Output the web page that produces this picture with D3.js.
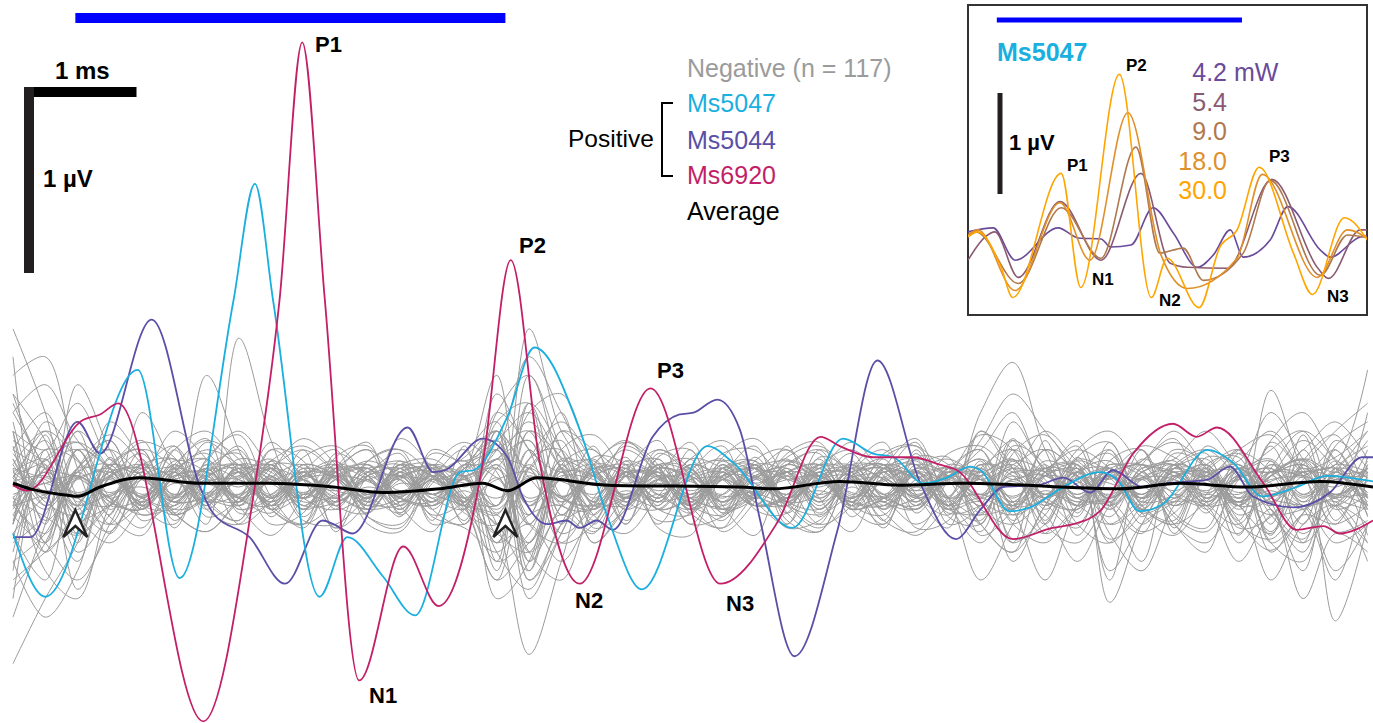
<!DOCTYPE html>
<html>
<head>
<meta charset="utf-8">
<script src="https://cdn.jsdelivr.net/npm/d3@7"></script>
<style>
  body { margin: 0; background: #fff; }
  svg { display: block; font-family: "Liberation Sans", Arial, sans-serif; }
</style>
</head>
<body>
<div class="chart"></div>
<script>
// ABR-like traces: negatives in grey, three positives, grand average, power-series inset

// stimulus window (ms)
var stim = [0.58, 4.58];
var insetStim = [0.47, 4.47];

// sample times for the negative traces (ms)
var negTimes = [0, 0.3, 0.6, 0.9, 1.2, 1.5, 1.8, 2.1, 2.4, 2.7, 3, 3.3, 3.6, 3.9, 4.2, 4.5, 4.8, 5.1, 5.4, 5.7, 6, 6.3,
  6.6, 6.9, 7.2, 7.5, 7.8, 8.1, 8.4, 8.7, 9, 9.3, 9.6, 9.9, 10.2, 10.5, 10.8, 11.1, 11.4, 11.7, 12, 12.3, 12.6];

// negative traces, values in 0.01 µV (estimated)
var negTraces = [
  [85, 40, -20, 10, 25, -5, 10, -10, 5, 12, -8, 6, 10, -4, 8, 20, -10, 5, 15, -6, 4, 10, -12, 0, 8, 12, -5, 3, 9, -10, 6, 14, -4, 2, 10, -8, 5, 12, -6, 3, 8, -10, 4],
  [-95, -60, -30, 15, -10, 8, -12, 5, 10, -6, 12, -4, 6, -10, 5, -30, 20, -8, 6, 10, -12, 4, 8, -6, 10, -8, 3, 12, -5, 6, -14, 8, 2, -10, 6, -4, 12, -8, 5, 10, -6, 8, -3],
  [60, 70, 10, -25, 5, 15, -10, 8, -6, 10, 4, -10, 12, 6, -8, 40, 60, 10, -15, 8, 5, -12, 10, 6, -4, 15, -10, 8, 4, -12, 10, 20, -6, 8, -10, 4, 12, -8, 6, 2, -12, 10, 5],
  [-40, -70, -45, 10, 20, -15, 5, 12, -10, 8, -6, 4, -12, 10, 6, -60, -40, 15, 8, -10, 12, -6, 4, 10, -14, 6, 8, -4, -12, 10, 5, -8, 12, -20, -30, 5, 8, -12, 6, 14, -8, 4, -10],
  [30, -20, 55, 20, -10, 5, 15, -8, 6, -12, 10, 8, -5, 12, -10, 25, -15, 30, 10, -8, 15, -10, 6, 12, -6, 8, -12, 10, 15, -5, 40, 67, 20, -10, 5, 12, -6, 10, -8, 6, 15, -5, 10],
  [-60, 20, -55, -20, 5, -10, 8, 12, -6, 4, -10, 6, 10, -8, 4, -20, -90, -40, 10, 8, -6, 12, -10, 5, 8, -12, 6, 10, -5, -15, 8, -6, 10, 12, -62, -20, 5, 8, -10, 6, 12, -4, 8],
  [45, 10, -10, 35, 15, -5, 60, 20, -10, 8, 5, -6, 12, -4, 10, 30, 10, 40, -10, 6, 8, -12, 4, 10, -6, 12, 5, -8, 10, 6, -4, 15, -12, 8, 10, -6, 4, 12, -10, 52, 10, -5, 20],
  [-20, 35, 15, -15, 40, 10, -20, 80, 25, -10, 6, 12, -8, 5, 14, -10, 85, 30, 8, -6, 12, 10, -8, 4, 15, -6, 8, 12, -10, 5, 8, -12, 6, 10, -5, 8, 14, -6, 10, -4, 8, 12, 63],
  [10, -45, -60, -10, 12, -8, 6, 10, -12, 5, 8, -6, 10, 12, -10, -50, 10, -30, -20, 8, 6, -10, 12, -4, 6, 10, -8, 5, 12, -6, -50, -20, 10, 6, -8, -40, 12, 5, -10, 8, 6, -72, -20],
  [70, -30, 20, 10, -12, 6, 8, -5, 12, 10, -8, 4, 6, -10, 8, 60, -40, 12, 20, -6, 10, 5, -12, 8, 6, -8, 12, 10, -6, 4, 15, -10, 8, 6, -12, 10, 8, -4, 12, -8, 6, 10, -5],
  [15, -10, 8, 12, -6, 10, -4, 8, -12, 6, 10, -8, 4, 12, -6, 15, -10, 8, 6, -12, 10, 4, -8, 12, -6, 8, 10, -4, 6, -10, 12, 8, -6, 4, 10, -12, 6, 8, -10, 12, -4, 6, 8],
  [-12, 8, -6, -10, 12, 4, -8, 10, 6, -12, 4, 10, -6, -8, 12, -14, 10, -6, -10, 8, -4, -12, 6, 10, -8, -4, 12, -6, -10, 8, 4, -12, 10, -6, -8, 12, -4, -10, 6, -8, 10, -6, -12],
  [25, 12, -15, 5, 18, -8, -4, 15, 10, -6, -12, 8, 14, 5, -10, 35, 45, -5, -12, 10, 15, -6, -10, 12, 8, -14, 6, 15, -8, 10, 20, -10, -6, 14, 5, -12, 10, 15, -6, 22, -10, 8, 30],
  [-30, -15, 20, -8, -12, 10, 15, -6, -10, 12, 5, -14, 8, 10, -6, -40, -25, 10, 14, -8, -12, 6, 15, -10, -6, 12, 8, -12, 4, 10, -20, -35, 8, 12, -10, -25, 6, -14, 10, -30, -40, 8, -15],
  [5, 25, -8, 12, 6, -14, 10, 4, -8, 12, 6, -10, 8, -4, 12, 20, 30, -15, 6, 10, -8, 12, 5, -10, 14, 6, -8, 10, 12, -6, 8, 25, 10, -6, 12, 8, -10, 6, 14, 30, 8, -10, 12],
  [-8, -25, 10, 6, -12, 8, -10, 12, 4, -6, 10, -12, 6, 8, -10, -25, -35, 12, -8, 6, 10, -10, 8, -6, 12, 4, -10, 8, 6, -12, -15, -10, 6, 12, -30, -10, 8, -6, 10, -12, -35, 6, -10],
  [40, 55, 25, 10, -5, 20, 30, 10, -8, 6, 12, -5, 10, 6, -10, 50, 20, 8, 12, -6, 10, 15, -8, 6, 10, -12, 5, 8, 14, -6, 30, 10, 8, -10, 12, 6, -8, 10, 20, -5, 12, 30, 45],
  [-50, -35, -20, -10, 8, -12, -6, 10, 4, -10, -8, 12, -6, -10, 6, -35, -55, -20, -8, 10, -12, -6, 8, -10, -4, 12, -8, -10, 6, -12, -8, -30, -15, 10, -45, -20, -8, 6, -30, -12, -60, -25, -35],
  [12, -6, 30, 10, -8, 14, 8, -10, 12, -4, 6, 10, -8, 12, 5, -10, 45, 20, -6, 14, 6, -8, 10, 12, -6, 4, 10, -8, 12, 6, -10, 14, 8, -6, 10, -4, 12, 6, -10, 8, 14, -6, 10],
  [-20, 12, -35, -15, 6, -8, 10, -12, -6, 8, -10, 4, -12, 6, -8, 12, -60, -25, 8, -10, 6, -12, -4, 10, -8, 6, -12, -6, 8, -10, 4, -15, -8, -20, 6, -10, 8, -12, -25, 6, -10, -8, -30],
  [8, 15, -10, 6, 12, -4, 8, 20, -6, 10, 5, -8, 12, 4, 10, 25, -10, 14, 6, -4, 12, 8, -6, 10, 14, 6, -8, 12, 5, 10, -6, 35, 8, -4, 10, 12, -6, 8, 10, 15, -4, 12, 8],
  [-15, 5, -12, 8, -6, -10, 12, -8, 6, -12, -4, 10, -10, 8, -6, -15, 20, -10, -12, 8, -6, 10, -12, -4, 8, -10, 6, -8, -12, 4, -10, 8, -6, -12, 10, -8, -4, 12, -10, -6, 8, -12, -4],
  [50, 0, -40, 5, 10, -6, 12, 8, -10, 6, 14, -4, 8, 10, -12, 30, -50, -20, 10, 6, -8, 12, 4, -10, 8, 12, -6, 10, 4, -8, 12, 6, -10, 8, 14, -6, 10, 4, -8, 12, 6, 20, -10],
  [-70, -20, 30, -12, 6, 10, -8, 4, 12, -10, 6, -6, 10, -12, 4, -45, 30, 10, -12, 8, 4, -10, 12, -6, 8, -8, 10, 4, -12, 6, 10, -8, -25, 12, -50, 8, -10, 6, 12, -8, -45, 10, -6],
  [20, 40, -5, -20, 10, 5, -10, 12, 8, -6, 10, 4, -12, 8, 6, -10, 40, 50, 12, -8, 10, 6, -4, 12, -10, 8, 6, -12, 10, 4, 25, 50, 30, 10, -6, 8, 12, -10, 6, 40, 15, -6, 40],
  [-35, 10, -15, 6, -10, 12, -4, -8, 10, -6, 12, 6, -10, 4, -8, -20, -45, 8, -30, -10, 6, -8, 12, -4, -10, 8, -6, 10, 4, -12, 6, -40, -10, 8, -12, 4, -20, -35, 10, -6, -12, -50, 8],
  [5, -12, 8, 20, 6, -8, 14, 30, 10, -6, 8, 12, -4, 10, 6, 15, 10, -8, 12, 25, 6, -10, 8, 14, -6, 12, 20, 6, -8, 10, 4, 12, 20, -6, 8, 14, 30, 10, -8, 6, 12, -4, 8],
  [-10, -30, -50, -25, -8, -15, -6, 10, -12, -4, 8, -10, -6, 6, -12, -30, -20, -40, -15, -6, -10, 8, -14, -6, -10, 4, -12, -8, -20, -6, 8, -12, -50, -10, 6, -14, -8, -10, -40, -15, -10, -45, -20],
  [30, 20, 45, 15, 8, 30, 15, -6, 10, 20, 8, -4, 12, 15, 6, 20, 70, 40, 10, 20, 8, -6, 14, 10, 20, 6, 12, -4, 15, 8, 20, 40, 10, 25, -8, 10, 15, 30, 12, 8, 20, 35, 15],
  [-25, -50, 5, -6, -15, -10, 6, -20, -8, 8, -12, -6, -14, 4, -10, -50, -30, -15, -25, 6, -12, -8, -18, 4, -10, -15, -6, -20, 8, -10, -30, -8, -15, -40, -10, 6, -20, -30, -10, -50, -20, -10, -40],
  [6, -4, 8, -6, 4, 8, -5, 6, -8, 4, 6, -6, 8, -4, 5, 10, -8, 6, 4, -6, 8, -4, 6, 5, -8, 4, 6, -6, 8, 3, -5, 6, -4, 8, -6, 5, 4, -8, 6, -4, 8, 5, -6],
  [-6, 8, -4, 5, -8, 4, 6, -6, 3, 8, -5, 6, -4, 8, -6, -10, 12, -6, 8, -5, 4, 6, -8, 5, -4, 8, -6, 4, -5, 8, -6, 4, 6, -8, 5, -6, 8, 4, -6, 8, -5, 4, 6],
  [10, 4, -6, 8, 10, -4, 6, 12, 2, -6, 8, 10, -2, 6, 4, 15, 25, -5, 8, 12, -4, 6, 10, 2, 8, -6, 10, 12, -2, 6, 15, 4, 10, -4, 8, 12, 6, -2, 10, 8, 15, 4, 10],
  [-10, -4, 6, -8, -12, 2, -6, -10, 4, -8, -6, -12, 2, -4, -10, -15, -30, 4, -8, -10, 2, -6, -12, -4, -8, 6, -10, -6, -12, 2, -8, -15, -4, -10, -20, -6, 4, -10, -8, -15, -12, -4, -10],
  [15, -8, -15, 12, 4, -6, 10, -8, 14, 4, -6, 10, 8, -8, 12, 25, -20, 10, -8, 12, 6, -6, 10, -10, 8, 4, -8, 12, 6, -10, 10, -8, 14, 6, -10, 8, 12, -6, 4, 10, -8, 14, -6],
  [-18, 10, 20, -10, -6, 12, -8, -4, 10, -12, 6, -8, -10, 12, -4, -25, 15, 20, -10, -6, 12, -8, 4, -10, -6, 10, -12, 4, 8, -10, -6, -12, 8, 20, 10, -12, -6, 8, -10, -25, 4, 10, -12],
  [35, -10, 10, 25, -6, 10, 4, -8, 20, 6, -10, 8, 12, -6, 10, 15, 35, 10, -12, 6, 20, 10, -8, 6, 12, 20, -4, 8, -10, 12, 8, 15, -10, 6, 20, -6, 10, 8, -12, 6, 25, 10, -8],
  [-45, 15, -25, -8, 10, -15, -4, 8, -12, -20, 4, -10, 6, -15, -8, 10, -35, -50, -10, 8, -12, -15, 4, -8, -20, 6, -10, -15, 8, -6, -15, 10, -25, -10, 6, -12, -20, -8, 10, -15, -30, -10, 5],
  [0, 30, 15, -5, 20, 10, -8, 6, 15, -4, 10, 20, 4, -8, 12, 5, -15, 30, 20, 6, -8, 15, 10, -4, 12, 6, 18, -6, 8, 15, 4, -10, 20, 8, -6, 15, 6, 10, -8, 25, 40, 15, 5],
  [-5, -35, -10, 12, -15, -6, 10, -12, -4, 8, -10, -14, 6, -6, -12, 5, -20, 10, -30, -12, 4, -10, -15, 6, -8, -12, 4, -10, -6, 8, -12, -20, -6, 10, -25, -45, -10, 6, -15, -8, -25, -10, -20],
  [3, 6, -3, 4, -5, 6, 2, -4, 5, -3, 6, 3, -5, 4, 2, -6, 5, 3, -4, 6, -2, 4, 5, -3, 6, -4, 3, 5, -6, 2, 4, -5, 6, 3, -4, 5, -2, 6, -3, 4, 5, -4, 3],
  [-4, 2, 6, -3, 5, -6, 3, 4, -5, 6, -2, -4, 5, 3, -6, 4, 8, -5, 2, -4, 6, 3, -5, -2, 4, 6, -3, -5, 2, 6, -4, 3, -6, 5, 2, -4, 6, -3, 4, -5, 2, 6, -3],
  [8, -2, 4, 10, -4, 6, 8, 0, 10, 4, -2, 8, 6, 10, 0, 12, -6, 4, 10, 2, 8, -2, 6, 10, 4, 0, 8, 10, -4, 6, 2, 10, 6, 0, 8, 4, 10, 2, -4, 8, 6, 0, 10],
  [-8, 2, -10, -4, 0, -8, -6, 2, -10, -4, -8, 0, -6, -10, -2, -12, 6, -6, -10, -2, -8, -4, 0, -10, -6, -2, -8, -10, 0, -6, -4, -10, -2, -8, -6, 0, -10, -4, -8, -2, -10, -6, -4],
  [20, 10, 5, -5, 12, 15, -3, 8, 12, -6, 4, 14, 6, -4, 10, 30, 5, -10, 12, 8, -6, 10, 14, 2, -6, 10, 12, 4, -8, 10, 6, 12, -4, 15, 8, -6, 12, 20, 5, -10, 15, 8, 25],
  [-25, -5, 5, 8, -10, -12, 4, -6, -14, 6, -4, -12, -8, 6, -10, 20, -40, -10, 6, -12, -4, -14, 6, -8, -10, 4, -12, -6, 8, -14, -10, 4, -8, -12, 6, -20, -4, -10, 8, -35, -15, -20, -10],
  [22, -18, 5, 25, -10, -20, 15, 28, -5, -22, 10, 24, -15, 5, 20, -25, 30, 15, -20, 8, 25, -10, -22, 14, 20, -6, -24, 10, 26, -8, -18, 22, 12, -26, 6, 20, -14, -22, 18, 8, -20, 25, 10],
  [-28, 15, 24, -6, -22, 10, 26, -14, -8, 20, -24, 6, 18, -20, -12, 25, -35, -10, 22, -18, 4, 24, -10, -26, 12, 18, -16, 6, 24, -20, -10, 26, -8, -22, 14, 20, -25, 8, 18, -12, -28, 10, 22],
  [12, 30, -10, -24, 8, 22, -6, -18, 20, 14, -22, -8, 26, 10, -18, 40, 20, -25, -10, 24, 12, -20, 6, 22, -14, -24, 8, 20, -4, -22, 30, 10, -20, 16, 24, -10, -18, 22, 6, -24, 14, 28, -6],
  [-15, -30, 10, 20, -18, -6, 24, 8, -20, -14, 16, 22, -10, -24, 6, -30, 10, 25, -22, -12, 20, 6, -24, -8, 18, 24, -12, -20, 10, 16, -26, -12, 20, 6, -28, -14, 18, 10, -22, -16, 12, -24, -18],
  [40, 10, -20, 6, 24, 16, -12, -20, 8, 26, 12, -16, -22, 10, 24, 8, -30, 20, 28, 6, -18, -14, 16, 26, 4, -20, -10, 18, 22, -6, -24, 18, 28, 4, -16, 12, 26, -8, -20, 10, 30, 14, -12],
  [-40, -25, 6, -16, -26, 8, 18, -10, -26, -6, 14, -20, -24, 4, 16, 30, -20, -30, -6, 16, -22, -26, 10, 14, -18, -24, 6, 12, -22, -18, 14, -28, -20, 8, 18, -14, -26, -4, 20, -30, -14, 6, -26],
  [18, -5, -25, 12, 20, -18, 4, 22, -12, -20, 18, 6, -16, 20, 10, -20, 15, 35, 12, -20, 16, 20, -12, -6, 22, -16, 10, 24, -14, 8, 20, -18, 6, 22, -20, -8, 20, 12, -18, 24, 6, -20, 16],
  [-10, 20, 14, -20, -8, 22, -16, -6, 24, 4, -22, 14, 20, -12, -20, 10, 25, -20, 16, 12, -20, 8, 22, -12, -14, 20, 4, -22, 16, 12, -20, 20, 4, -16, 24, -10, -20, 16, 10, -26, 20, -8, 14],
  [6, 14, 24, 10, -8, 8, 20, 12, -4, 16, 22, 6, -6, 18, 14, 25, 40, 16, 6, 22, 10, -4, 18, 20, 4, 10, 24, 8, -2, 18, 22, 10, 30, 14, 4, 22, 16, 6, 20, 28, 10, 16, 30],
  [-6, -16, -26, -10, 6, -14, -24, -8, 4, -18, -20, -6, 4, -16, -22, -35, -15, -10, -24, -6, 2, -20, -16, -4, -22, -18, 0, -14, -26, -10, 4, -20, -30, -12, -8, -24, -14, 2, -20, -28, -10, -30, -20],
  [30, -35, 20, -10, 15, -22, 10, 18, -16, 8, 20, -12, 14, -18, 22, -40, 45, -15, 10, -20, 18, 6, -16, 12, -20, 16, 8, -18, 20, -10, 12, -30, 25, -14, 20, -16, 10, 18, -26, 14, -30, 20, -16],
  [-20, 28, -30, 16, -12, 20, -8, -18, 14, -16, 8, 20, -14, 12, -20, 30, -45, 12, -18, 14, -10, 20, -14, 16, -8, -20, 14, -12, 18, -16, -20, 25, -18, 16, -10, 20, -22, 12, 16, -20, 28, -18, 12],
  [50, 25, -15, -30, -10, 12, 25, 15, -10, -20, -8, 14, 20, 6, -14, -20, 60, 20, -15, -25, -5, 15, 25, 10, -10, -22, -6, 16, 22, 4, -20, -35, -10, 20, 30, 10, -16, -24, 4, 20, 30, -10, -30],
  [-55, -30, 10, 28, 12, -14, -24, -6, 14, 22, 8, -16, -20, 2, 18, 35, -50, -25, 12, 24, 10, -14, -22, -4, 16, 22, 6, -18, -24, 4, 28, 20, -20, -30, -6, 14, 24, 10, -18, -34, -14, 22, 35]
];

// positive traces, [ms, µV]
var ms5047 = [[0, -0.25], [0.30, -0.59], [1.16, 0.63], [1.55, -0.49], [2.05, 1.0], [2.25, 1.63], [2.42, 1.0], [2.85, -0.59],
  [3.11, -0.27], [3.44, -0.48], [3.74, -0.69], [4.16, 0.08], [4.28, 0.09], [4.60, 0.38], [4.85, 0.75], [5.27, 0.31],
  [5.53, -0.16], [5.85, -0.55], [6.46, 0.22], [6.70, 0.13], [7.25, -0.22], [7.72, 0.26], [8.0, 0.18], [8.19, 0.16],
  [8.47, 0.02], [8.69, 0.05], [8.90, 0.11], [9.0, 0.09], [9.27, -0.13], [9.46, -0.11], [9.74, -0.01], [10.11, 0.08],
  [10.27, 0.04], [10.48, -0.13], [10.70, -0.09], [11.11, 0.20], [11.35, 0.13], [11.62, -0.05], [11.94, 0.0],
  [12.22, 0.06], [12.65, 0.03]];

var ms5044 = [[0, -0.27], [0.16, -0.27], [0.60, 0.35], [0.81, 0.18], [1.29, 0.90], [1.74, 0.0], [1.86, -0.14], [2.20, -0.27],
  [2.53, -0.52], [2.88, -0.18], [2.98, -0.20], [3.16, -0.25], [3.67, 0.32], [3.91, 0.08], [4.02, 0.09], [4.37, 0.26],
  [4.60, 0.16], [4.74, -0.05], [4.97, -0.20], [5.15, -0.18], [5.27, -0.22], [5.43, -0.18], [5.58, -0.23], [5.95, 0.27],
  [6.20, 0.39], [6.33, 0.40], [6.55, 0.47], [6.76, 0.31], [6.95, -0.18], [7.27, -0.91], [7.67, -0.23], [8.04, 0.68],
  [8.44, 0.02], [8.77, -0.28], [9.0, -0.12], [9.21, 0.0], [9.53, 0.01], [9.77, 0.05], [10.02, -0.03], [10.23, 0.09],
  [10.51, 0.0], [10.73, 0.02], [11.11, 0.04], [11.32, 0.11], [11.53, -0.05], [11.91, -0.11], [12.25, -0.03],
  [12.55, 0.16], [12.65, 0.16]];

var ms6920 = [[0, 0.01], [0.13, -0.02], [0.65, 0.36], [0.81, 0.39], [0.98, 0.45], [1.77, -1.26], [2.23, -0.07], [2.48, 1.01],
  [2.69, 2.39], [2.90, 1.01], [3.22, -1.04], [3.63, -0.32], [3.96, -0.64], [4.37, 0.13], [4.63, 1.22], [4.90, 0.13],
  [5.27, -0.52], [5.93, 0.53], [6.58, -0.52], [7.11, -0.19], [7.51, 0.27], [7.69, 0.22], [8.0, 0.16], [8.25, 0.16],
  [8.37, 0.16], [8.62, 0.12], [8.78, 0.09], [9.30, -0.28], [9.67, -0.22], [9.86, -0.20], [10.11, -0.13], [10.42, 0.18],
  [10.79, 0.34], [11.01, 0.27], [11.2, 0.32], [11.63, 0.02], [11.94, -0.23], [12.19, -0.21], [12.34, -0.25],
  [12.65, -0.18]];

var average = [[0, 0.02], [0.16, -0.01], [0.45, -0.04], [0.60, -0.05], [0.81, 0.0], [1.18, 0.05], [1.74, 0.02], [2.36, 0.02],
  [2.98, 0.0], [3.44, -0.03], [3.97, -0.01], [4.37, 0.02], [4.60, -0.02], [4.87, 0.05], [5.53, 0.01], [6.76, 0.0],
  [7.07, -0.01], [7.69, 0.03], [8.25, 0.01], [8.84, 0.02], [10.30, -0.01], [10.86, 0.02], [11.48, 0.0], [12.16, 0.03],
  [12.65, 0.0]];

// inset: Ms5047 at increasing laser power, [ms, µV]
var powerLabels = ['4.2', '5.4', '9.0', '18.0', '30.0'];
var p42 = [[0, 0.08], [0.41, 0.12], [0.77, -0.20], [1.47, 0.12], [1.80, 0.02], [2.17, 0.01], [2.33, -0.07], [2.66, -0.05],
  [3.02, 0.32], [3.35, 0.07], [3.74, -0.27], [4.0, -0.15], [4.28, 0.10], [4.49, -0.17], [4.93, 0.0], [5.22, 0.33],
  [5.75, -0.10], [5.91, -0.17], [6.40, 0.03], [6.55, 0.04]];
var p54 = [[0, -0.20], [0.28, 0.03], [0.44, 0.08], [0.82, -0.37], [1.50, 0.38], [2.17, -0.20], [2.82, 0.66], [3.30, -0.23],
  [3.58, -0.27], [4.23, -0.28], [4.96, 0.60], [5.71, -0.28], [5.88, -0.38], [6.40, 0.10], [6.55, 0.10]];
var p90 = [[0, 0.04], [0.13, 0.08], [0.82, -0.43], [1.52, 0.32], [2.17, -0.18], [2.74, 0.92], [3.13, -0.13], [3.51, -0.08],
  [3.84, -0.40], [4.49, -0.13], [4.93, 0.59], [5.75, -0.35], [6.19, 0.05], [6.55, 0.02]];
var p180 = [[0, 0.05], [0.16, 0.10], [0.77, -0.50], [1.50, 0.37], [1.99, -0.20], [2.61, 1.26], [3.15, -0.15], [3.58, -0.48],
  [4.39, -0.18], [4.80, 0.65], [5.70, -0.37], [6.19, 0.10], [6.55, 0.0]];
var p300 = [[0, 0.03], [0.16, 0.08], [0.54, -0.27], [0.73, -0.57], [1.52, 0.66], [1.84, -0.47], [2.47, 1.64], [2.99, -0.57],
  [3.25, -0.18], [3.77, -0.67], [4.11, -0.07], [4.39, 0.10], [4.75, 0.72], [5.31, -0.13], [5.62, -0.54], [6.14, 0.22],
  [6.55, -0.03]];

var colors = { neg: '#9b9b9b', ms5047: '#1aafdf', ms5044: '#5a4fa6', ms6920: '#c21f68', avg: '#000' };
var powerColors = ['#6a4a9a', '#8a5a70', '#b0784e', '#e0902a', '#ffa500'];

var W = 1373, H = 723;
var svg = d3.select('.chart').append('svg').attr('width', W).attr('height', H).style('background-color', 'white');

var x = d3.scaleLinear().domain([0, 12.65]).range([13, 1373]);
var y = d3.scaleLinear().domain([0, 1]).range([487, 301]);

// stimulus bar
svg.append('line').attr('x1', x(stim[0])).attr('x2', x(stim[1])).attr('y1', 18).attr('y2', 18)
  .attr('stroke', '#0000ff').attr('stroke-width', 10);

// negatives
var negLine = d3.line().x((d, i) => x(negTimes[i])).y(d => y(d / 100)).curve(d3.curveCatmullRom.alpha(0.5));
svg.append('g').selectAll('path').data(negTraces).enter().append('path')
  .attr('d', negLine).attr('fill', 'none').attr('stroke', colors.neg).attr('stroke-width', 1);

var posLine = d3.line().x(d => x(d[0])).y(d => y(d[1])).curve(d3.curveMonotoneX);
[[ms5044, colors.ms5044], [ms5047, colors.ms5047], [ms6920, colors.ms6920]].forEach(function(s) {
  svg.append('path').attr('d', posLine(s[0])).attr('fill', 'none').attr('stroke', s[1]).attr('stroke-width', 1.8);
});
svg.append('path').attr('d', posLine(average)).attr('fill', 'none').attr('stroke', colors.avg).attr('stroke-width', 3);

// stimulus on/off arrowheads
svg.selectAll('.arrow').data(stim).enter().append('path').attr('class', 'arrow')
  .attr('d', 'M0,-14 L12,13 L0,2 L-12,13 Z')
  .attr('transform', d => `translate(${x(d)},524)`)
  .attr('fill', '#fff').attr('stroke', '#222').attr('stroke-width', 2.4).attr('stroke-linejoin', 'miter');

// scale bars
svg.append('line').attr('x1', 29).attr('x2', 29 + x(1) - x(0)).attr('y1', 92).attr('y2', 92)
  .attr('stroke', '#000').attr('stroke-width', 10);
svg.append('line').attr('x1', 29).attr('x2', 29).attr('y1', 87).attr('y2', 87 + y(0) - y(1))
  .attr('stroke', '#231f20').attr('stroke-width', 10);
svg.append('text').attr('x', 55).attr('y', 79).text('1 ms').attr('font-size', 24).attr('font-weight', 'bold');
svg.append('text').attr('x', 43).attr('y', 187).text('1 µV').attr('font-size', 24).attr('font-weight', 'bold');

// peak labels
var peakLabels = [['P1', 315, 52], ['P2', 519, 253], ['P3', 657, 378], ['N1', 369, 703], ['N2', 575, 608], ['N3', 726, 611]];
svg.selectAll('.peak').data(peakLabels).enter().append('text').attr('class', 'peak')
  .attr('x', d => d[1]).attr('y', d => d[2]).text(d => d[0])
  .attr('font-size', 22).attr('font-weight', 'bold');

// legend
var legend = [['Negative (n = 117)', colors.neg, 77], ['Ms5047', colors.ms5047, 112], ['Ms5044', colors.ms5044, 149],
  ['Ms6920', colors.ms6920, 184], ['Average', '#000', 220]];
svg.selectAll('.leg').data(legend).enter().append('text').attr('class', 'leg')
  .attr('x', 687).attr('y', d => d[2]).text(d => d[0]).attr('fill', d => d[1]).attr('font-size', 25);
svg.append('text').attr('x', 568).attr('y', 147).text('Positive').attr('font-size', 24.5);
svg.append('path').attr('d', 'M673,103 H662 V176 H673').attr('fill', 'none').attr('stroke', '#000').attr('stroke-width', 2);

// inset
var inset = svg.append('g');
var xi = d3.scaleLinear().domain([0, 6.51]).range([968, 1367]);
var yi = d3.scaleLinear().domain([0, 1]).range([240, 139]);
svg.append('clipPath').attr('id', 'insetClip').append('rect').attr('x', 968).attr('y', 5).attr('width', 399).attr('height', 310);
inset.append('rect').attr('x', 968).attr('y', 5).attr('width', 399).attr('height', 310)
  .attr('fill', '#fff').attr('stroke', '#333').attr('stroke-width', 2);
inset.append('line').attr('x1', xi(insetStim[0])).attr('x2', xi(insetStim[1])).attr('y1', 20).attr('y2', 20)
  .attr('stroke', '#0000ff').attr('stroke-width', 5);
inset.append('text').attr('x', 997).attr('y', 61).text('Ms5047').attr('fill', colors.ms5047)
  .attr('font-size', 25).attr('font-weight', 'bold');
inset.append('line').attr('x1', 1000).attr('x2', 1000).attr('y1', 93).attr('y2', 93 + yi(0) - yi(1))
  .attr('stroke', '#231f20').attr('stroke-width', 5);
inset.append('text').attr('x', 1009).attr('y', 150).text('1 µV').attr('font-size', 22).attr('font-weight', 'bold');

var insetLine = d3.line().x(d => xi(d[0])).y(d => yi(d[1])).curve(d3.curveMonotoneX);
var insetTraces = [p42, p54, p90, p180, p300];
inset.append('g').attr('clip-path', 'url(#insetClip)').selectAll('path').data(insetTraces).enter().append('path')
  .attr('d', insetLine).attr('fill', 'none').attr('stroke', (d, i) => powerColors[i]).attr('stroke-width', 1.6);

inset.selectAll('.pw').data(powerLabels).enter().append('text').attr('class', 'pw')
  .attr('x', 1227).attr('y', (d, i) => 81 + i * 29.5).attr('text-anchor', 'end')
  .text(d => d).attr('fill', (d, i) => powerColors[i]).attr('font-size', 25);
inset.append('text').attr('x', 1234).attr('y', 81).text('mW').attr('fill', powerColors[0]).attr('font-size', 25);

var insetPeaks = [['P1', 1067, 171], ['P2', 1126, 71], ['P3', 1269, 162], ['N1', 1092, 285], ['N2', 1159, 306], ['N3', 1327, 302]];
inset.selectAll('.ipk').data(insetPeaks).enter().append('text').attr('class', 'ipk')
  .attr('x', d => d[1]).attr('y', d => d[2]).text(d => d[0]).attr('font-size', 17).attr('font-weight', 'bold');
</script>
</body>
</html>
